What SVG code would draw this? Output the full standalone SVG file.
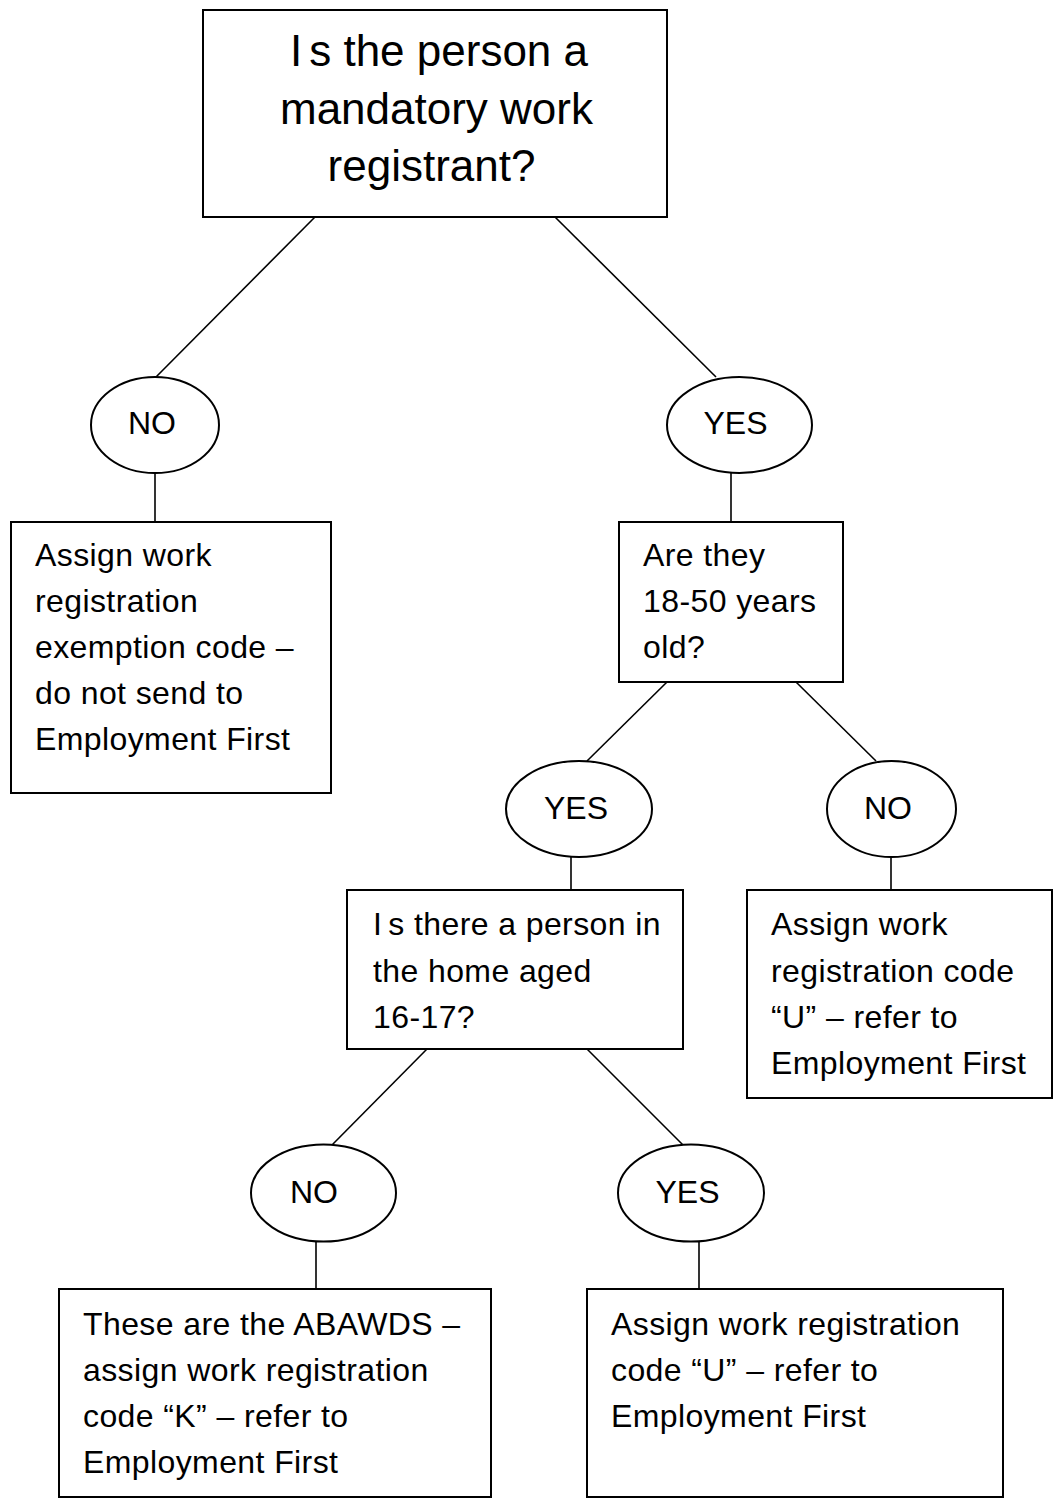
<svg xmlns="http://www.w3.org/2000/svg" width="1055" height="1503" viewBox="0 0 1055 1503">
<style>
.box{fill:#fff;stroke:#000;stroke-width:2}
.oval{fill:#fff;stroke:#000;stroke-width:2}
.con{stroke:#000;stroke-width:1.6;fill:none}
text{font-family:"Liberation Sans",Arial,sans-serif;fill:#000}
.t{font-size:32px;letter-spacing:0.4px}
.big{font-size:44px;text-anchor:middle}
.lbl{font-size:32px;text-anchor:middle}
</style>
<rect width="1055" height="1503" fill="#fff"/>
<g id="connectors">
<line class="con" x1="315" y1="217" x2="156" y2="377"/>
<line class="con" x1="555" y1="217" x2="716" y2="377"/>
<line class="con" x1="155" y1="473" x2="155" y2="522"/>
<line class="con" x1="731" y1="473" x2="731" y2="522"/>
<line class="con" x1="667" y1="682" x2="587" y2="761"/>
<line class="con" x1="796" y1="682" x2="876" y2="761"/>
<line class="con" x1="571" y1="857" x2="571" y2="890"/>
<line class="con" x1="891" y1="857" x2="891" y2="890"/>
<line class="con" x1="427" y1="1049" x2="332" y2="1145"/>
<line class="con" x1="587" y1="1049" x2="683" y2="1145"/>
<line class="con" x1="316" y1="1242" x2="316" y2="1289"/>
<line class="con" x1="699" y1="1242" x2="699" y2="1289"/>
</g>
<g id="q1">
<rect class="box" x="203" y="10" width="464" height="207"/>
<text class="big" x="439" y="66">I<tspan dx="7">s the person a</tspan></text>
<text class="big" x="436.5" y="124">mandatory work</text>
<text class="big" x="431.5" y="181">registrant?</text>
</g>
<g id="no1">
<ellipse class="oval" cx="155" cy="425" rx="64" ry="48"/>
<text class="lbl" x="152" y="434">NO</text>
</g>
<g id="yes1">
<ellipse class="oval" cx="739.5" cy="425" rx="72.5" ry="48"/>
<text class="lbl" x="735.5" y="434">YES</text>
</g>
<g id="exempt">
<rect class="box" x="11" y="522" width="320" height="271"/>
<text class="t" x="35" y="566">Assign work</text>
<text class="t" x="35" y="612">registration</text>
<text class="t" x="35" y="658">exemption code –</text>
<text class="t" x="35" y="704">do not send to</text>
<text class="t" x="35" y="750">Employment First</text>
</g>
<g id="q2">
<rect class="box" x="619" y="522" width="224" height="160"/>
<text class="t" x="643" y="566">Are they</text>
<text class="t" x="643" y="612">18-50 years</text>
<text class="t" x="643" y="658">old?</text>
</g>
<g id="yes2">
<ellipse class="oval" cx="579" cy="809" rx="73" ry="48"/>
<text class="lbl" x="576" y="819">YES</text>
</g>
<g id="no2">
<ellipse class="oval" cx="891.5" cy="809" rx="64.5" ry="48"/>
<text class="lbl" x="888" y="819">NO</text>
</g>
<g id="q3">
<rect class="box" x="347" y="890" width="336" height="159"/>
<text class="t" x="373" y="935">I<tspan dx="6">s there a person in</tspan></text>
<text class="t" x="373" y="982">the home aged</text>
<text class="t" x="373" y="1028">16-17?</text>
</g>
<g id="codeU1">
<rect class="box" x="747" y="890" width="305" height="208"/>
<text class="t" x="771" y="935">Assign work</text>
<text class="t" x="771" y="982">registration code</text>
<text class="t" x="771" y="1028">“U” – refer to</text>
<text class="t" x="771" y="1074">Employment First</text>
</g>
<g id="no3">
<ellipse class="oval" cx="323.5" cy="1193" rx="72.5" ry="48.5"/>
<text class="lbl" x="314" y="1203">NO</text>
</g>
<g id="yes3">
<ellipse class="oval" cx="691" cy="1193" rx="73" ry="48.5"/>
<text class="lbl" x="687.5" y="1203">YES</text>
</g>
<g id="codeK">
<rect class="box" x="59" y="1289" width="432" height="208"/>
<text class="t" x="83" y="1335">These are the ABAWDS –</text>
<text class="t" x="83" y="1381">assign work registration</text>
<text class="t" x="83" y="1427">code “K” – refer to</text>
<text class="t" x="83" y="1473">Employment First</text>
</g>
<g id="codeU2">
<rect class="box" x="587" y="1289" width="416" height="208"/>
<text class="t" x="611" y="1335">Assign work registration</text>
<text class="t" x="611" y="1381">code “U” – refer to</text>
<text class="t" x="611" y="1427">Employment First</text>
</g>
</svg>
